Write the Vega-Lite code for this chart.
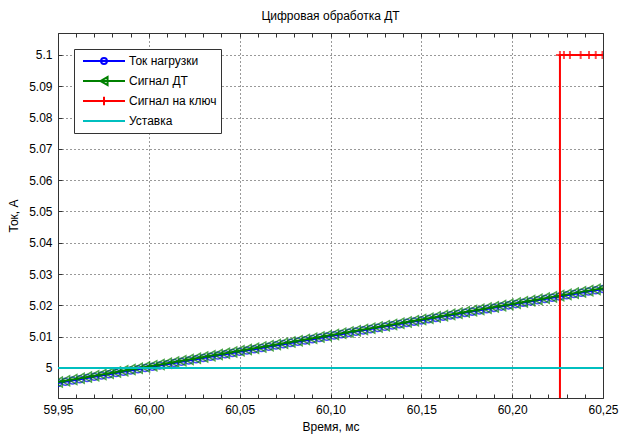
{
  "$schema": "https://vega.github.io/schema/vega-lite/v6.json",
  "width": 545,
  "height": 365,
  "autosize": {"type": "none"},
  "padding": {"left": 58, "top": 33, "right": 17, "bottom": 36},
  "background": "white",
  "config": {
    "font": "Liberation Sans",
    "view": {"stroke": "#333333", "strokeWidth": 1},
    "axis": {"domain": false, "labelFont": "Liberation Sans", "labelFontSize": 12, "labelColor": "#000", "titleFont": "Liberation Sans", "titleFontSize": 12, "titleFontWeight": "normal", "titleColor": "#000", "tickColor": "#333333", "gridColor": "#333333", "gridDash": [1, 3], "gridWidth": 1}
  },
  "title": {"text": "Цифровая обработка ДТ", "fontSize": 12, "fontWeight": "normal", "font": "Liberation Sans", "color": "#000", "offset": 10},
  "data": {"values": [
    {"t": 59.950, "v": 4.9952, "s": "Ток нагрузки"},
    {"t": 59.954, "v": 4.9956, "s": "Ток нагрузки"},
    {"t": 59.958, "v": 4.9960, "s": "Ток нагрузки"},
    {"t": 59.962, "v": 4.9964, "s": "Ток нагрузки"},
    {"t": 59.966, "v": 4.9968, "s": "Ток нагрузки"},
    {"t": 59.970, "v": 4.9972, "s": "Ток нагрузки"},
    {"t": 59.974, "v": 4.9976, "s": "Ток нагрузки"},
    {"t": 59.978, "v": 4.9980, "s": "Ток нагрузки"},
    {"t": 59.982, "v": 4.9984, "s": "Ток нагрузки"},
    {"t": 59.986, "v": 4.9988, "s": "Ток нагрузки"},
    {"t": 59.990, "v": 4.9992, "s": "Ток нагрузки"},
    {"t": 59.994, "v": 4.9996, "s": "Ток нагрузки"},
    {"t": 59.998, "v": 5.0000, "s": "Ток нагрузки"},
    {"t": 60.002, "v": 5.0004, "s": "Ток нагрузки"},
    {"t": 60.006, "v": 5.0008, "s": "Ток нагрузки"},
    {"t": 60.010, "v": 5.0012, "s": "Ток нагрузки"},
    {"t": 60.014, "v": 5.0016, "s": "Ток нагрузки"},
    {"t": 60.018, "v": 5.0020, "s": "Ток нагрузки"},
    {"t": 60.022, "v": 5.0024, "s": "Ток нагрузки"},
    {"t": 60.026, "v": 5.0028, "s": "Ток нагрузки"},
    {"t": 60.030, "v": 5.0032, "s": "Ток нагрузки"},
    {"t": 60.034, "v": 5.0036, "s": "Ток нагрузки"},
    {"t": 60.038, "v": 5.0040, "s": "Ток нагрузки"},
    {"t": 60.042, "v": 5.0044, "s": "Ток нагрузки"},
    {"t": 60.046, "v": 5.0048, "s": "Ток нагрузки"},
    {"t": 60.050, "v": 5.0052, "s": "Ток нагрузки"},
    {"t": 60.054, "v": 5.0056, "s": "Ток нагрузки"},
    {"t": 60.058, "v": 5.0060, "s": "Ток нагрузки"},
    {"t": 60.062, "v": 5.0064, "s": "Ток нагрузки"},
    {"t": 60.066, "v": 5.0068, "s": "Ток нагрузки"},
    {"t": 60.070, "v": 5.0072, "s": "Ток нагрузки"},
    {"t": 60.074, "v": 5.0076, "s": "Ток нагрузки"},
    {"t": 60.078, "v": 5.0080, "s": "Ток нагрузки"},
    {"t": 60.082, "v": 5.0084, "s": "Ток нагрузки"},
    {"t": 60.086, "v": 5.0088, "s": "Ток нагрузки"},
    {"t": 60.090, "v": 5.0092, "s": "Ток нагрузки"},
    {"t": 60.094, "v": 5.0096, "s": "Ток нагрузки"},
    {"t": 60.098, "v": 5.0100, "s": "Ток нагрузки"},
    {"t": 60.102, "v": 5.0104, "s": "Ток нагрузки"},
    {"t": 60.106, "v": 5.0108, "s": "Ток нагрузки"},
    {"t": 60.110, "v": 5.0112, "s": "Ток нагрузки"},
    {"t": 60.114, "v": 5.0116, "s": "Ток нагрузки"},
    {"t": 60.118, "v": 5.0120, "s": "Ток нагрузки"},
    {"t": 60.122, "v": 5.0124, "s": "Ток нагрузки"},
    {"t": 60.126, "v": 5.0128, "s": "Ток нагрузки"},
    {"t": 60.130, "v": 5.0132, "s": "Ток нагрузки"},
    {"t": 60.134, "v": 5.0136, "s": "Ток нагрузки"},
    {"t": 60.138, "v": 5.0140, "s": "Ток нагрузки"},
    {"t": 60.142, "v": 5.0144, "s": "Ток нагрузки"},
    {"t": 60.146, "v": 5.0148, "s": "Ток нагрузки"},
    {"t": 60.150, "v": 5.0152, "s": "Ток нагрузки"},
    {"t": 60.154, "v": 5.0156, "s": "Ток нагрузки"},
    {"t": 60.158, "v": 5.0160, "s": "Ток нагрузки"},
    {"t": 60.162, "v": 5.0164, "s": "Ток нагрузки"},
    {"t": 60.166, "v": 5.0168, "s": "Ток нагрузки"},
    {"t": 60.170, "v": 5.0172, "s": "Ток нагрузки"},
    {"t": 60.174, "v": 5.0176, "s": "Ток нагрузки"},
    {"t": 60.178, "v": 5.0180, "s": "Ток нагрузки"},
    {"t": 60.182, "v": 5.0184, "s": "Ток нагрузки"},
    {"t": 60.186, "v": 5.0188, "s": "Ток нагрузки"},
    {"t": 60.190, "v": 5.0192, "s": "Ток нагрузки"},
    {"t": 60.194, "v": 5.0196, "s": "Ток нагрузки"},
    {"t": 60.198, "v": 5.0200, "s": "Ток нагрузки"},
    {"t": 60.202, "v": 5.0204, "s": "Ток нагрузки"},
    {"t": 60.206, "v": 5.0208, "s": "Ток нагрузки"},
    {"t": 60.210, "v": 5.0212, "s": "Ток нагрузки"},
    {"t": 60.214, "v": 5.0216, "s": "Ток нагрузки"},
    {"t": 60.218, "v": 5.0220, "s": "Ток нагрузки"},
    {"t": 60.222, "v": 5.0224, "s": "Ток нагрузки"},
    {"t": 60.226, "v": 5.0228, "s": "Ток нагрузки"},
    {"t": 60.230, "v": 5.0232, "s": "Ток нагрузки"},
    {"t": 60.234, "v": 5.0236, "s": "Ток нагрузки"},
    {"t": 60.238, "v": 5.0240, "s": "Ток нагрузки"},
    {"t": 60.242, "v": 5.0244, "s": "Ток нагрузки"},
    {"t": 60.246, "v": 5.0248, "s": "Ток нагрузки"},
    {"t": 60.250, "v": 5.0252, "s": "Ток нагрузки"},
    {"t": 59.950, "v": 4.9955, "s": "Сигнал ДТ"},
    {"t": 59.954, "v": 4.9959, "s": "Сигнал ДТ"},
    {"t": 59.958, "v": 4.9963, "s": "Сигнал ДТ"},
    {"t": 59.962, "v": 4.9967, "s": "Сигнал ДТ"},
    {"t": 59.966, "v": 4.9971, "s": "Сигнал ДТ"},
    {"t": 59.970, "v": 4.9975, "s": "Сигнал ДТ"},
    {"t": 59.974, "v": 4.9979, "s": "Сигнал ДТ"},
    {"t": 59.978, "v": 4.9983, "s": "Сигнал ДТ"},
    {"t": 59.982, "v": 4.9987, "s": "Сигнал ДТ"},
    {"t": 59.986, "v": 4.9991, "s": "Сигнал ДТ"},
    {"t": 59.990, "v": 4.9995, "s": "Сигнал ДТ"},
    {"t": 59.994, "v": 4.9999, "s": "Сигнал ДТ"},
    {"t": 59.998, "v": 5.0003, "s": "Сигнал ДТ"},
    {"t": 60.002, "v": 5.0007, "s": "Сигнал ДТ"},
    {"t": 60.006, "v": 5.0011, "s": "Сигнал ДТ"},
    {"t": 60.010, "v": 5.0015, "s": "Сигнал ДТ"},
    {"t": 60.014, "v": 5.0019, "s": "Сигнал ДТ"},
    {"t": 60.018, "v": 5.0023, "s": "Сигнал ДТ"},
    {"t": 60.022, "v": 5.0027, "s": "Сигнал ДТ"},
    {"t": 60.026, "v": 5.0031, "s": "Сигнал ДТ"},
    {"t": 60.030, "v": 5.0035, "s": "Сигнал ДТ"},
    {"t": 60.034, "v": 5.0039, "s": "Сигнал ДТ"},
    {"t": 60.038, "v": 5.0043, "s": "Сигнал ДТ"},
    {"t": 60.042, "v": 5.0047, "s": "Сигнал ДТ"},
    {"t": 60.046, "v": 5.0051, "s": "Сигнал ДТ"},
    {"t": 60.050, "v": 5.0055, "s": "Сигнал ДТ"},
    {"t": 60.054, "v": 5.0059, "s": "Сигнал ДТ"},
    {"t": 60.058, "v": 5.0063, "s": "Сигнал ДТ"},
    {"t": 60.062, "v": 5.0067, "s": "Сигнал ДТ"},
    {"t": 60.066, "v": 5.0071, "s": "Сигнал ДТ"},
    {"t": 60.070, "v": 5.0075, "s": "Сигнал ДТ"},
    {"t": 60.074, "v": 5.0079, "s": "Сигнал ДТ"},
    {"t": 60.078, "v": 5.0083, "s": "Сигнал ДТ"},
    {"t": 60.082, "v": 5.0087, "s": "Сигнал ДТ"},
    {"t": 60.086, "v": 5.0091, "s": "Сигнал ДТ"},
    {"t": 60.090, "v": 5.0095, "s": "Сигнал ДТ"},
    {"t": 60.094, "v": 5.0099, "s": "Сигнал ДТ"},
    {"t": 60.098, "v": 5.0103, "s": "Сигнал ДТ"},
    {"t": 60.102, "v": 5.0107, "s": "Сигнал ДТ"},
    {"t": 60.106, "v": 5.0111, "s": "Сигнал ДТ"},
    {"t": 60.110, "v": 5.0115, "s": "Сигнал ДТ"},
    {"t": 60.114, "v": 5.0119, "s": "Сигнал ДТ"},
    {"t": 60.118, "v": 5.0123, "s": "Сигнал ДТ"},
    {"t": 60.122, "v": 5.0127, "s": "Сигнал ДТ"},
    {"t": 60.126, "v": 5.0131, "s": "Сигнал ДТ"},
    {"t": 60.130, "v": 5.0135, "s": "Сигнал ДТ"},
    {"t": 60.134, "v": 5.0139, "s": "Сигнал ДТ"},
    {"t": 60.138, "v": 5.0143, "s": "Сигнал ДТ"},
    {"t": 60.142, "v": 5.0147, "s": "Сигнал ДТ"},
    {"t": 60.146, "v": 5.0151, "s": "Сигнал ДТ"},
    {"t": 60.150, "v": 5.0155, "s": "Сигнал ДТ"},
    {"t": 60.154, "v": 5.0159, "s": "Сигнал ДТ"},
    {"t": 60.158, "v": 5.0163, "s": "Сигнал ДТ"},
    {"t": 60.162, "v": 5.0167, "s": "Сигнал ДТ"},
    {"t": 60.166, "v": 5.0171, "s": "Сигнал ДТ"},
    {"t": 60.170, "v": 5.0175, "s": "Сигнал ДТ"},
    {"t": 60.174, "v": 5.0179, "s": "Сигнал ДТ"},
    {"t": 60.178, "v": 5.0183, "s": "Сигнал ДТ"},
    {"t": 60.182, "v": 5.0187, "s": "Сигнал ДТ"},
    {"t": 60.186, "v": 5.0191, "s": "Сигнал ДТ"},
    {"t": 60.190, "v": 5.0195, "s": "Сигнал ДТ"},
    {"t": 60.194, "v": 5.0199, "s": "Сигнал ДТ"},
    {"t": 60.198, "v": 5.0203, "s": "Сигнал ДТ"},
    {"t": 60.202, "v": 5.0207, "s": "Сигнал ДТ"},
    {"t": 60.206, "v": 5.0211, "s": "Сигнал ДТ"},
    {"t": 60.210, "v": 5.0215, "s": "Сигнал ДТ"},
    {"t": 60.214, "v": 5.0219, "s": "Сигнал ДТ"},
    {"t": 60.218, "v": 5.0223, "s": "Сигнал ДТ"},
    {"t": 60.222, "v": 5.0227, "s": "Сигнал ДТ"},
    {"t": 60.226, "v": 5.0231, "s": "Сигнал ДТ"},
    {"t": 60.230, "v": 5.0235, "s": "Сигнал ДТ"},
    {"t": 60.234, "v": 5.0239, "s": "Сигнал ДТ"},
    {"t": 60.238, "v": 5.0243, "s": "Сигнал ДТ"},
    {"t": 60.242, "v": 5.0247, "s": "Сигнал ДТ"},
    {"t": 60.246, "v": 5.0251, "s": "Сигнал ДТ"},
    {"t": 60.250, "v": 5.0255, "s": "Сигнал ДТ"},
    {"t": 60.2263, "v": 4.98, "s": "Сигнал на ключ"},
    {"t": 60.2263, "v": 5.1, "s": "Сигнал на ключ"},
    {"t": 60.2285, "v": 5.1, "s": "Сигнал на ключ"},
    {"t": 60.2318, "v": 5.1, "s": "Сигнал на ключ"},
    {"t": 60.2377, "v": 5.1, "s": "Сигнал на ключ"},
    {"t": 60.2423, "v": 5.1, "s": "Сигнал на ключ"},
    {"t": 60.2460, "v": 5.1, "s": "Сигнал на ключ"},
    {"t": 60.2497, "v": 5.1, "s": "Сигнал на ключ"},
    {"t": 60.2600, "v": 5.1, "s": "Сигнал на ключ"},
    {"t": 59.95, "v": 5.0, "s": "Уставка"},
    {"t": 60.25, "v": 5.0, "s": "Уставка"}
  ]},
  "encoding": {
    "x": {"field": "t", "type": "quantitative", "scale": {"domain": [59.95, 60.25], "nice": false, "zero": false}},
    "y": {"field": "v", "type": "quantitative", "scale": {"domain": [4.9904, 5.107], "nice": false, "zero": false}}
  },
  "resolve": {"axis": {"x": "independent", "y": "independent"}},
  "layer": [
    {
      "transform": [{"filter": "datum.s === 'Ток нагрузки'"}],
      "mark": {"type": "line", "strokeWidth": 2, "clip": true},
      "encoding": {
        "x": {"field": "t", "type": "quantitative", "axis": {
          "orient": "bottom", "title": "Время, мс", "titlePadding": 6,
          "values": [59.95, 59.96, 59.97, 59.98, 59.99, 60.0, 60.01, 60.02, 60.03, 60.04, 60.05, 60.06, 60.07, 60.08, 60.09, 60.1, 60.11, 60.12, 60.13, 60.14, 60.15, 60.16, 60.17, 60.18, 60.19, 60.2, 60.21, 60.22, 60.23, 60.24, 60.25],
          "labelExpr": "round(datum.value*100) % 5 === 0 ? replace(format(datum.value, '.2f'), '.', ',') : ''",
          "gridOpacity": {"condition": {"test": "round(datum.value*100) % 5 === 0", "value": 1}, "value": 0},
          "tickSize": -4, "labelPadding": 10, "labelFlush": false, "labelOverlap": false
        }},
        "y": {"field": "v", "type": "quantitative", "axis": {
          "orient": "left", "title": "Ток, А", "titlePadding": 8,
          "values": [5.0, 5.01, 5.02, 5.03, 5.04, 5.05, 5.06, 5.07, 5.08, 5.09, 5.1],
          "labelExpr": "format(datum.value, '.2~f')",
          "tickSize": -4, "labelPadding": 10, "labelOverlap": false
        }},
        "color": {"field": "s", "type": "nominal", "scale": {"domain": ["Ток нагрузки", "Сигнал ДТ", "Сигнал на ключ", "Уставка"], "range": ["#0000ff", "#008000", "#ff0000", "#00bfbf"]},
          "legend": {
            "title": null, "orient": "none", "legendX": 16, "legendY": 16,
            "fillColor": "white", "strokeColor": "#333333", "padding": 4,
            "labelFont": "Liberation Sans", "labelFontSize": 12, "labelColor": "#000",
            "symbolSize": 1764, "symbolStrokeWidth": 2, "symbolOffset": 4, "labelOffset": 3, "rowPadding": 4, "clipHeight": 16,
            "encode": {"symbols": {"update": {
              "shape": {"signal": "datum.value === 'Ток нагрузки' ? 'M-1,0H1M0.14,0A0.14,0.14,0,1,1,-0.14,0A0.14,0.14,0,1,1,0.14,0' : datum.value === 'Сигнал ДТ' ? 'M-1,0H1M-0.17,0L0.17,-0.19L0.17,0.19Z' : datum.value === 'Сигнал на ключ' ? 'M-1,0H1M0,-0.2V0.2' : 'M-1,0H1'"},
              "fill": {"value": "transparent"},
              "strokeWidth": {"value": 2}
            }}}
          }}
      }
    },
    {
      "transform": [{"filter": "datum.s === 'Ток нагрузки'"}],
      "mark": {"type": "point", "shape": "circle", "filled": false, "size": 50, "strokeWidth": 1.5, "color": "#0000ff", "clip": true},
      "encoding": {"x": {"field": "t", "type": "quantitative", "axis": null}, "y": {"field": "v", "type": "quantitative", "axis": null}}
    },
    {
      "transform": [{"filter": "datum.s === 'Сигнал ДТ'"}],
      "mark": {"type": "line", "strokeWidth": 2, "clip": true},
      "encoding": {"x": {"field": "t", "type": "quantitative", "axis": null}, "y": {"field": "v", "type": "quantitative", "axis": null}, "color": {"field": "s", "type": "nominal"}}
    },
    {
      "transform": [{"filter": "datum.s === 'Сигнал ДТ'"}],
      "mark": {"type": "point", "shape": "triangle-left", "filled": false, "size": 100, "strokeWidth": 1.5, "color": "#008000", "clip": true},
      "encoding": {"x": {"field": "t", "type": "quantitative", "axis": null}, "y": {"field": "v", "type": "quantitative", "axis": null}}
    },
    {
      "transform": [{"filter": "datum.s === 'Сигнал на ключ'"}],
      "mark": {"type": "line", "strokeWidth": 2, "clip": true},
      "encoding": {"x": {"field": "t", "type": "quantitative", "axis": null}, "y": {"field": "v", "type": "quantitative", "axis": null}, "color": {"field": "s", "type": "nominal"}}
    },
    {
      "transform": [{"filter": "datum.s === 'Сигнал на ключ' && datum.v > 5.05"}],
      "mark": {"type": "point", "shape": "M-1,0H1M0,-1V1", "filled": false, "size": 64, "strokeWidth": 2, "color": "#ff0000", "clip": true},
      "encoding": {"x": {"field": "t", "type": "quantitative", "axis": null}, "y": {"field": "v", "type": "quantitative", "axis": null}}
    },
    {
      "transform": [{"filter": "datum.s === 'Уставка'"}],
      "mark": {"type": "line", "strokeWidth": 2, "clip": true},
      "encoding": {
        "x": {"field": "t", "type": "quantitative", "axis": {
          "orient": "top", "title": null, "labels": false, "grid": false,
          "values": [59.95, 59.96, 59.97, 59.98, 59.99, 60.0, 60.01, 60.02, 60.03, 60.04, 60.05, 60.06, 60.07, 60.08, 60.09, 60.1, 60.11, 60.12, 60.13, 60.14, 60.15, 60.16, 60.17, 60.18, 60.19, 60.2, 60.21, 60.22, 60.23, 60.24, 60.25],
          "tickSize": -4
        }},
        "y": {"field": "v", "type": "quantitative", "axis": {
          "orient": "right", "title": null, "labels": false, "grid": false,
          "values": [5.0, 5.01, 5.02, 5.03, 5.04, 5.05, 5.06, 5.07, 5.08, 5.09, 5.1],
          "tickSize": -4
        }},
        "color": {"field": "s", "type": "nominal"}
      }
    }
  ]
}
